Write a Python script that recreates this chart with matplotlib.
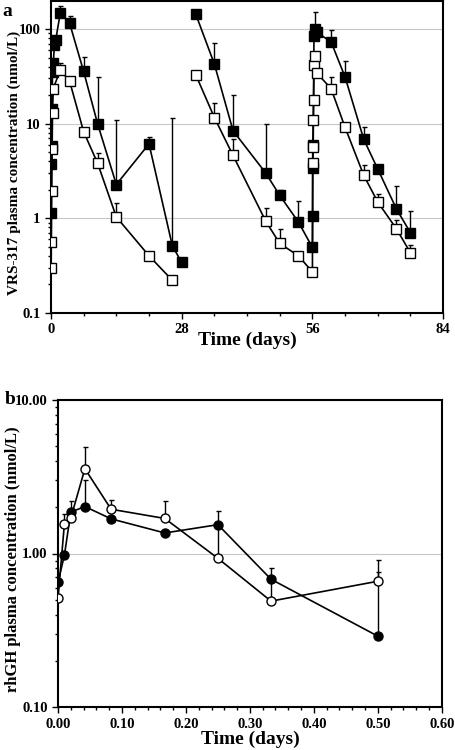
import numpy as np
import matplotlib
matplotlib.use('Agg')
import matplotlib.pyplot as plt
from matplotlib.ticker import FixedLocator, MultipleLocator, LogLocator, NullFormatter, FuncFormatter

plt.rcParams['font.family'] = ['Liberation Serif', 'DejaVu Serif']
plt.rcParams['font.weight'] = 'bold'

# ---- panel a: VRS-317 (three dosing cycles) ----
# closed squares
a_closed_t1 = [0.04, 0.08, 0.17, 0.25, 0.33, 0.5, 0.75, 1.0, 2, 4, 7, 10, 14, 21, 26, 28]
a_closed_c1 = [1.13, 3.7, 5.8, 14.2, 35, 44, 68, 76, 148, 115, 35.6, 9.9, 2.27, 6.1, 0.51, 0.34]
a_closed_e1 = [0, 0, 0, 0, 0, 0, 0, 0, 29, 22, 15, 21, 8.7, 1.1, 10.9, 0]
a_closed_t2 = [31, 35, 39, 46, 49, 53, 56, 56.04, 56.08, 56.17, 56.33, 56.5, 57,
               60, 63, 67, 70, 74, 77]
a_closed_c2 = [144, 42.6, 8.4, 3.0, 1.74, 0.91, 0.49, 1.06, 3.4, 6.0, 84, 100, 92,
               73, 31, 6.8, 3.3, 1.25, 0.70]
a_closed_e2 = [0, 29, 11.6, 7, 0.26, 0.6, 0, 0, 0, 0, 0, 52, 0,
               25, 15, 2.4, 0, 0.95, 0.49]

# open squares
a_open_t1 = [0.04, 0.08, 0.17, 0.25, 0.33, 0.5, 2, 4, 7, 10, 14, 21, 26]
a_open_c1 = [0.30, 0.56, 1.95, 5.4, 13.0, 23.5, 37, 28, 8.2, 3.8, 1.03, 0.40, 0.22]
a_open_e1 = [0, 0, 0, 0, 0, 0, 7, 0, 0, 1.1, 0.42, 0, 0]
a_open_t2 = [31, 35, 39, 46, 49, 53, 56, 56.04, 56.08, 56.17, 56.25, 56.33, 56.5, 57,
             60, 63, 67, 70, 74, 77]
a_open_c2 = [32.9, 11.6, 4.6, 0.93, 0.54, 0.40, 0.27, 3.8, 5.7, 10.9, 17.7, 41.6, 51.8, 34,
             23.4, 9.1, 2.83, 1.48, 0.77, 0.43]
a_open_e2 = [0, 4.9, 2.2, 0.34, 0.22, 0, 0, 0, 0, 0, 0, 0, 0, 0,
             7.5, 0, 0.8, 0.32, 0.18, 0.09]

# ---- panel b: rhGH ----
b_time = [0.0, 0.01, 0.02, 0.042, 0.083, 0.167, 0.25, 0.333, 0.5]
b_closed = [0.65, 0.975, 1.86, 2.02, 1.68, 1.36, 1.54, 0.68, 0.29]
b_closed_e = [0, 0, 0.32, 1.0, 0, 0, 0.35, 0.12, 0.47]
b_open = [0.51, 1.56, 1.70, 3.56, 1.94, 1.69, 0.93, 0.49, 0.66]
b_open_e = [0, 0.24, 0, 1.34, 0.30, 0.51, 0.57, 0.17, 0.25]


def draw(ax, t, c, e, marker, face, ms):
    t = np.array(t); c = np.array(c); e = np.array(e)
    m = e > 0
    ax.errorbar(t[m], c[m], yerr=[np.zeros(m.sum()), e[m]], fmt='none',
                ecolor='black', elinewidth=1.0, capsize=1.8, capthick=1.0, zorder=2)
    ax.plot(t, c, color='black', lw=1.2, marker=marker, ms=ms,
            mfc=face, mec='black', mew=1.0, zorder=3)


def style(ax):
    for s in ax.spines.values():
        s.set_linewidth(1.5)
    ax.tick_params(which='both', direction='out', width=1.0)
    ax.tick_params(which='major', length=4, labelsize=10.5)
    ax.tick_params(which='minor', length=2.5)
    ax.yaxis.grid(True, which='major', color='#c8c8c8', lw=0.8)
    ax.set_axisbelow(True)
    for lab in ax.get_xticklabels() + ax.get_yticklabels():
        lab.set_fontweight('bold')


fig = plt.figure(figsize=(4.55, 7.5), dpi=100)

ax1 = fig.add_axes([0.112, 0.583, 0.862, 0.4157])
draw(ax1, a_closed_t1, a_closed_c1, a_closed_e1, 's', 'black', 6.5)
draw(ax1, a_closed_t2, a_closed_c2, a_closed_e2, 's', 'black', 6.5)
draw(ax1, a_open_t1, a_open_c1, a_open_e1, 's', 'white', 6.5)
draw(ax1, a_open_t2, a_open_c2, a_open_e2, 's', 'white', 6.5)
ax1.set_yscale('log')
ax1.set_ylim(0.1, 198)
ax1.set_xlim(0, 84)
ax1.xaxis.set_major_locator(FixedLocator([0, 28, 56, 84]))
ax1.xaxis.set_minor_locator(MultipleLocator(7))
ax1.yaxis.set_major_locator(FixedLocator([0.1, 1, 10, 100]))
ax1.yaxis.set_major_formatter(FuncFormatter(lambda v, p: '%g' % v))
ax1.yaxis.set_minor_locator(LogLocator(subs=np.arange(2, 10)))
ax1.yaxis.set_minor_formatter(NullFormatter())
ax1.set_xlabel('Time (days)', fontsize=14, fontweight='bold', labelpad=-3)
ax1.set_ylabel('VRS-317 plasma concentration (nmol/L)', fontsize=11,
               fontweight='bold')
ax1.yaxis.set_label_coords(-0.076, 0.48)
style(ax1)
fig.text(0.005, 0.985, 'a', fontsize=14, fontweight='bold', va='center')

ax2 = fig.add_axes([0.1275, 0.057, 0.8435, 0.41])
draw(ax2, b_time, b_closed, b_closed_e, 'o', 'black', 6.5)
draw(ax2, b_time, b_open, b_open_e, 'o', 'white', 6.5)
ax2.set_yscale('log')
ax2.set_ylim(0.1, 10)
ax2.set_xlim(0, 0.6)
ax2.xaxis.set_major_locator(MultipleLocator(0.1))
ax2.xaxis.set_minor_locator(MultipleLocator(0.02))
ax2.xaxis.set_major_formatter(FuncFormatter(lambda v, p: '%.2f' % v))
ax2.yaxis.set_major_locator(FixedLocator([0.1, 1, 10]))
ax2.yaxis.set_major_formatter(FuncFormatter(lambda v, p: '%.2f' % v))
ax2.yaxis.set_minor_locator(LogLocator(subs=np.arange(2, 10)))
ax2.yaxis.set_minor_formatter(NullFormatter())
ax2.set_xlabel('Time (days)', fontsize=14, fontweight='bold', labelpad=0)
ax2.set_ylabel('rhGH plasma concentration (nmol/L)', fontsize=12,
               fontweight='bold')
ax2.yaxis.set_label_coords(-0.096, 0.48)
style(ax2)
fig.text(0.01, 0.468, 'b', fontsize=14, fontweight='bold', va='center')

fig.savefig('out.png', dpi=100)
